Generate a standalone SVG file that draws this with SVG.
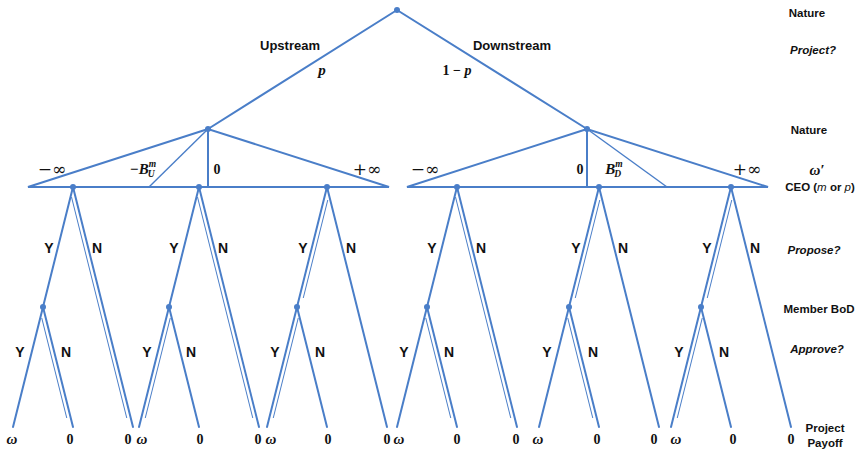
<svg xmlns="http://www.w3.org/2000/svg" width="855" height="451" viewBox="0 0 855 451">
<style>
.e{stroke:#4a7ec8;stroke-width:2;fill:none;stroke-linecap:round}
.t{stroke:#4a7ec8;stroke-width:1.4;fill:none}
.d{stroke:#4a7ec8;stroke-width:1;fill:none}
.n{fill:#4a7ec8}
.lb{font-family:"Liberation Sans",Arial,sans-serif;font-weight:bold;font-size:13px;fill:#111;text-anchor:middle}
.yn{font-family:"Liberation Sans",Arial,sans-serif;font-weight:bold;font-size:14px;fill:#111;text-anchor:middle}
.rl{font-family:"Liberation Sans",Arial,sans-serif;font-weight:bold;font-size:11.5px;fill:#111;text-anchor:middle}
.ri{font-family:"Liberation Sans",Arial,sans-serif;font-weight:bold;font-style:italic;font-size:11.5px;fill:#111;text-anchor:middle}
.m{font-family:"Liberation Serif","Times New Roman",serif;font-weight:bold;font-size:14px;fill:#111;text-anchor:middle}
.mi{font-family:"Liberation Serif","Times New Roman",serif;font-weight:bold;font-style:italic;font-size:15px;fill:#111;text-anchor:middle}
.inf{font-family:"DejaVu Serif","Liberation Serif",serif;font-size:17px;fill:#111;text-anchor:middle}
</style>
<g id="connectors">
<path class="e" d="M397,10 L208,129 M397,10 L587,129"/>
<path class="e" d="M208,129 L28,187 L389,187 Z M208,129 L208,187"/>
<path class="t" d="M208,129 L149,187"/>
<path class="e" d="M587,129 L407,187 L768,187 Z M587,129 L587,187"/>
<path class="t" d="M587,129 L667,187"/>
<path class="e" d="M73,187 L43,307 M73,187 L133,427 M43,307 L13,427 M43,307 L73,427"/>
<path class="e" d="M199,187 L169,307 M199,187 L259,427 M169,307 L139,427 M169,307 L199,427"/>
<path class="e" d="M327,187 L297,307 M327,187 L387,427 M297,307 L267,427 M297,307 L327,427"/>
<path class="e" d="M457,187 L427,307 M457,187 L517,427 M427,307 L397,427 M427,307 L457,427"/>
<path class="e" d="M599,187 L569,307 M599,187 L659,427 M569,307 L539,427 M569,307 L599,427"/>
<path class="e" d="M731,187 L701,307 M731,187 L791,427 M701,307 L671,427 M701,307 L731,427"/>
<path class="d" d="M71.5,197 L126.75,418 M41.75,318 L66.75,418"/>
<path class="d" d="M197.5,197 L252.75,418 M170.25,318 L145.25,418"/>
<path class="d" d="M327.75,200 L303.25,298 M298.25,318 L273.25,418"/>
<path class="d" d="M455.5,197 L510.75,418 M425.75,318 L450.75,418"/>
<path class="d" d="M599.75,200 L575.25,298 M567.75,318 L592.75,418"/>
<path class="d" d="M731.75,200 L707.25,298 M702.25,318 L677.25,418"/>
</g>
<g id="root"><circle class="n" cx="397" cy="10" r="3"/></g>
<g id="nature-up"><circle class="n" cx="208" cy="129" r="3"/></g>
<g id="nature-down"><circle class="n" cx="587" cy="129" r="3"/></g>
<g id="ceo-nodes">
<circle class="n" cx="73" cy="187" r="3"/><circle class="n" cx="199" cy="187" r="3"/><circle class="n" cx="327" cy="187" r="3"/>
<circle class="n" cx="457" cy="187" r="3"/><circle class="n" cx="599" cy="187" r="3"/><circle class="n" cx="731" cy="187" r="3"/>
</g>
<g id="bod-nodes">
<circle class="n" cx="43" cy="307" r="3"/><circle class="n" cx="169" cy="307" r="3"/><circle class="n" cx="297" cy="307" r="3"/>
<circle class="n" cx="427" cy="307" r="3"/><circle class="n" cx="569" cy="307" r="3"/><circle class="n" cx="701" cy="307" r="3"/>
</g>
<g id="labels-top">
<text class="lb" x="290" y="50">Upstream</text>
<text class="mi" x="322" y="75">p</text>
<text class="lb" x="512" y="50">Downstream</text>
<text class="m" x="457" y="75">1 − <tspan font-style="italic">p</tspan></text>
</g>
<g id="labels-nature">
<text class="inf" x="52" y="175">−∞</text>
<text class="mi" x="143" y="174" font-size="14">−B<tspan font-size="9.5" dy="-7">m</tspan><tspan font-size="9.5" dx="-8.5" dy="10">U</tspan></text>
<text class="m" x="217" y="174">0</text>
<text class="inf" x="367" y="175">+∞</text>
<text class="inf" x="425" y="175">−∞</text>
<text class="m" x="580" y="174">0</text>
<text class="mi" x="614" y="174" font-size="14">B<tspan font-size="9.5" dy="-7">m</tspan><tspan font-size="9.5" dx="-8.5" dy="10">D</tspan></text>
<text class="inf" x="747" y="175">+∞</text>
</g>
<g id="labels-propose">
<text class="yn" x="49" y="253">Y</text><text class="yn" x="97" y="253">N</text>
<text class="yn" x="174" y="253">Y</text><text class="yn" x="223" y="253">N</text>
<text class="yn" x="303" y="253">Y</text><text class="yn" x="351" y="253">N</text>
<text class="yn" x="432" y="253">Y</text><text class="yn" x="481" y="253">N</text>
<text class="yn" x="576" y="253">Y</text><text class="yn" x="623" y="253">N</text>
<text class="yn" x="707" y="253">Y</text><text class="yn" x="755" y="253">N</text>
</g>
<g id="labels-approve">
<text class="yn" x="20" y="357">Y</text><text class="yn" x="66" y="357">N</text>
<text class="yn" x="147" y="357">Y</text><text class="yn" x="191" y="357">N</text>
<text class="yn" x="275" y="357">Y</text><text class="yn" x="320" y="357">N</text>
<text class="yn" x="404" y="357">Y</text><text class="yn" x="449" y="357">N</text>
<text class="yn" x="547" y="357">Y</text><text class="yn" x="593" y="357">N</text>
<text class="yn" x="679" y="357">Y</text><text class="yn" x="724" y="357">N</text>
</g>
<g id="payoffs">
<text class="mi" x="12" y="444">ω</text><text class="m" x="70" y="444">0</text><text class="m" x="128" y="444">0</text>
<text class="mi" x="142" y="444">ω</text><text class="m" x="200" y="444">0</text><text class="m" x="258" y="444">0</text>
<text class="mi" x="271" y="444">ω</text><text class="m" x="328" y="444">0</text><text class="m" x="387" y="444">0</text>
<text class="mi" x="399" y="444">ω</text><text class="m" x="457" y="444">0</text><text class="m" x="516" y="444">0</text>
<text class="mi" x="538" y="444">ω</text><text class="m" x="597" y="444">0</text><text class="m" x="654" y="444">0</text>
<text class="mi" x="676" y="444">ω</text><text class="m" x="733" y="444">0</text><text class="m" x="791" y="444">0</text>
</g>
<g id="legend">
<text class="rl" x="807" y="17">Nature</text>
<text class="ri" x="813" y="54">Project?</text>
<text class="rl" x="809" y="134">Nature</text>
<text class="mi" x="817" y="175" font-size="13">ω′</text>
<text class="rl" x="820" y="191">CEO (<tspan font-style="italic" font-weight="normal">m</tspan> or <tspan font-style="italic" font-weight="normal">p</tspan>)</text>
<text class="ri" x="814" y="254">Propose?</text>
<text class="rl" x="819" y="313">Member BoD</text>
<text class="ri" x="817" y="353">Approve?</text>
<text class="rl" x="825" y="432">Project</text>
<text class="rl" x="825" y="447">Payoff</text>
</g>
</svg>
